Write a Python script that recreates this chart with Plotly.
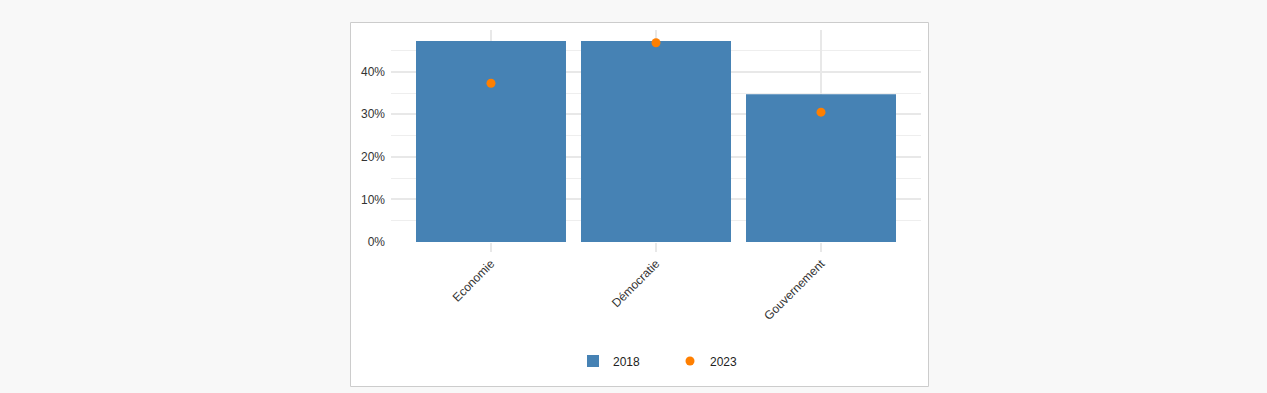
import plotly.graph_objects as go

categories = ["Economie", "Démocratie", "Gouvernement"]
values_2018 = [0.472, 0.472, 0.347]
values_2023 = [0.373, 0.468, 0.305]

W, H = 1267, 393
L, R, T, B = 391, 921, 30, 242  # plot area in pixels
pw, ph = R - L, B - T

def px_x(p):
    return (p - L) / pw

def px_y(p):
    return (B - p) / ph

fig = go.Figure()
fig.add_trace(go.Bar(
    x=categories, y=values_2018, name="2018",
    marker=dict(color="#4682b4", line=dict(width=0)),
    width=0.909,
))
fig.add_trace(go.Scatter(
    x=categories, y=values_2023, name="2023", mode="markers",
    marker=dict(color="#ff7f00", size=9),
))

font = "Liberation Sans, Arial, sans-serif"
fig.update_layout(
    width=W, height=H,
    margin=dict(l=L, r=W - R, t=T, b=H - B, pad=0),
    paper_bgcolor="#f8f8f8",
    plot_bgcolor="#ffffff",
    font=dict(family=font, size=12, color="#444444"),
    showlegend=True,
    legend=dict(
        orientation="h", x=0.5 + 14 / pw, xanchor="center", y=px_y(361), yanchor="middle",
        font=dict(family=font, size=12, color="#222222"),
        entrywidth=52, entrywidthmode="pixels", bgcolor="rgba(0,0,0,0)",
    ),
    shapes=[dict(
        type="rect", xref="paper", yref="paper", layer="below",
        x0=px_x(350.5), x1=px_x(928.5), y0=px_y(386.5), y1=px_y(22.5),
        fillcolor="#ffffff", line=dict(color="#cccccc", width=1),
    )],
)
fig.update_xaxes(
    range=[-0.606, 2.606], tickangle=-45,
    showgrid=True, gridcolor="#e8e8e8", gridwidth=2,
    ticks="outside", ticklen=9, tickwidth=2, tickcolor="#e8e8e8",
    showline=False, zeroline=False,
    tickfont=dict(family=font, size=12, color="#333333"),
)
fig.update_yaxes(
    range=[0, 0.498], dtick=0.1, tickformat=".0%",
    showgrid=True, gridcolor="#e8e8e8", gridwidth=2,
    minor=dict(dtick=0.05, showgrid=True, gridcolor="#eeeeee", gridwidth=1),
    zeroline=False, showline=False, ticks="", ticklabelstandoff=5,
    tickfont=dict(family=font, size=12, color="#333333"),
)

fig.write_html(
    "out.html",
    config={"displayModeBar": False},
    post_script="document.body.style.margin='0';document.body.style.background='#f8f8f8';",
)
